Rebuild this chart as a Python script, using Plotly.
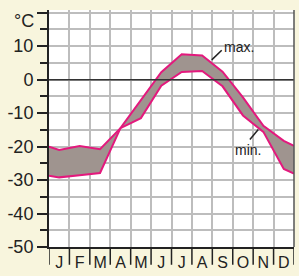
import plotly.graph_objects as go

months = ["J", "F", "M", "A", "M", "J", "J", "A", "S", "O", "N", "D"]
# x positions: 0 = left edge, 0.5..11.5 = month centres, 12 = right edge
x_pos = [0, 0.5, 1.5, 2.5, 3.5, 4.5, 5.5, 6.5, 7.5, 8.5, 9.5, 10.5, 11.5, 12]
t_max = [-20.0, -21.0, -19.8, -20.8, -14.5, -6.1, 2.2, 7.6, 7.2, 2.4, -5.3, -13.8, -18.3, -19.8]
t_min = [-28.7, -29.2, -28.6, -27.9, -14.5, -11.5, -1.8, 2.3, 2.6, -2.0, -10.7, -15.6, -26.7, -28.1]

y_major = [-50, -40, -30, -20, -10, 0, 10, 20]
y_labels = ["-50", "-40", "-30", "-20", "-10", "0", "10", ""]
y_minor = [-45, -35, -25, -15, -5, 5, 15]

LINE = "#e3197d"
FILL = "#9f948f"
CREAM = "#f8f5dd"
GRID = "#bdbdbd"
FONT = "Liberation Sans, Arial, sans-serif"

fig = go.Figure()
fig.add_trace(go.Scatter(x=x_pos, y=t_min, mode="lines",
                         line=dict(color=LINE, width=2), hoverinfo="skip"))
fig.add_trace(go.Scatter(x=x_pos, y=t_max, mode="lines", fill="tonexty",
                         fillcolor=FILL,
                         line=dict(color=LINE, width=2), hoverinfo="skip"))

shapes = []
# month separators below axis
for i in range(13):
    shapes.append(dict(type="line", xref="x", yref="paper", x0=i, x1=i,
                       y0=0, y1=-0.075, line=dict(color="#222", width=1.5)))
# pointer lines
shapes.append(dict(type="line", xref="x", yref="y", x0=7.97, y0=5.9, x1=8.46, y1=8.8,
                   line=dict(color="#222", width=1.5)))
shapes.append(dict(type="line", xref="x", yref="y", x0=9.84, y0=-17.9, x1=10.25, y1=-14.9,
                   line=dict(color="#222", width=1.5)))
# zero line
shapes.append(dict(type="line", xref="paper", yref="y", x0=0, x1=1, y0=0, y1=0,
                   line=dict(color="#333", width=1.5)))
# right border
shapes.append(dict(type="line", xref="paper", yref="paper", x0=1, x1=1, y0=0, y1=1,
                   line=dict(color="#555", width=1.5)))

annotations = [
    dict(text="°C", xref="paper", yref="y", x=-0.055, y=17.4, xanchor="right",
         showarrow=False, font=dict(family=FONT, size=18, color="#222")),
    dict(text="max.", xref="x", yref="y", x=9.3, y=9.7, showarrow=False,
         font=dict(family=FONT, size=14, color="#222")),
    dict(text="min.", xref="x", yref="y", x=9.75, y=-21.1, showarrow=False,
         font=dict(family=FONT, size=14, color="#222")),
]

fig.update_layout(
    width=299, height=276,
    margin=dict(l=49, r=5, t=10, b=25),
    paper_bgcolor=CREAM, plot_bgcolor="white",
    showlegend=False,
    shapes=shapes,
    annotations=annotations,
    xaxis=dict(range=[0, 12], tickvals=[i + 0.5 for i in range(12)], ticktext=months,
               ticks="", showgrid=False, zeroline=False,
               showline=True, linecolor="#222", linewidth=2,
               tickfont=dict(family=FONT, size=16, color="#222"),
               minor=dict(tickvals=list(range(13)), showgrid=True, gridcolor=GRID,
                          gridwidth=1.5, ticks="")),
    yaxis=dict(range=[-50, 20.8], tickvals=y_major, ticktext=y_labels,
               ticks="outside", ticklen=10, tickwidth=1.5, tickcolor="#222",
               showgrid=True, gridcolor=GRID, gridwidth=1.5, zeroline=False,
               showline=True, linecolor="#222", linewidth=2,
               tickfont=dict(family=FONT, size=18, color="#222"),
               minor=dict(tickvals=y_minor, ticks="outside", ticklen=7,
                          tickcolor="#222", tickwidth=1.5,
                          showgrid=True, gridcolor=GRID, gridwidth=1.5)),
)

fig.write_html("out.html", config={"displayModeBar": False},
               post_script="document.body.style.margin='0';document.body.style.background='%s';" % CREAM)
